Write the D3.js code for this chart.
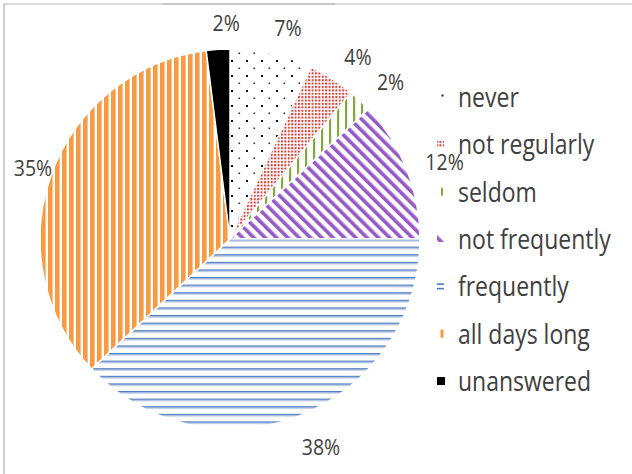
<!DOCTYPE html>
<html>
<head>
<meta charset="utf-8">
<script src="https://cdn.jsdelivr.net/npm/d3@7"></script>
<style>
  html, body { margin: 0; padding: 0; background: #fff; }
  svg { display: block; }
</style>
</head>
<body>
<svg id="chart" width="632" height="474"></svg>
<script>
// Survey answers, in the order the pie is drawn (clockwise from 12 o'clock)
const categories = ["never", "not regularly", "seldom", "not frequently", "frequently", "all days long", "unanswered"];
const values = [7, 4, 2, 12, 38, 35, 2];
const valueLabels = ["7%", "4%", "2%", "12%", "38%", "35%", "2%"];

const W = 632, H = 474;
const cx = 230, cy = 239, r = 190;
const textStretch = 1.15; // tall, narrow lettering

const svg = d3.select("#chart");
const defs = svg.append("defs");

// Hatch patterns, one per category
function pat(id, w, h, draw, transform) {
  const p = defs.append("pattern")
    .attr("id", id)
    .attr("patternUnits", "userSpaceOnUse")
    .attr("width", w).attr("height", h);
  if (transform) p.attr("patternTransform", transform);
  p.append("rect").attr("width", w).attr("height", h).attr("fill", "#fff");
  draw(p);
}
// never: sparse staggered dots
pat("p-never", 15, 15, p => {
  p.append("rect").attr("x", 1).attr("y", 1).attr("width", 2).attr("height", 2).attr("fill", "#111");
  p.append("rect").attr("x", 8.5).attr("y", 8.5).attr("width", 1.6).attr("height", 1.6).attr("fill", "#333");
});
// not regularly: fine red grid
pat("p-notreg", 3.4, 3.4, p => {
  p.append("rect").attr("width", 2).attr("height", 2).attr("fill", "#d63e3a");
});
// seldom: thin green verticals
pat("p-seldom", 8, 8, p => {
  p.append("rect").attr("x", 3).attr("width", 2.2).attr("height", 8).attr("fill", "#84a93c");
});
// not frequently: wide purple downward diagonals
pat("p-notfreq", 8, 8, p => {
  p.append("rect").attr("x", 0).attr("width", 3.6).attr("height", 8).attr("fill", "#9659c6");
}, "rotate(-45)");
// frequently: blue horizontals
pat("p-freq", 8, 7.6, p => {
  p.append("rect").attr("y", 0).attr("width", 8).attr("height", 1.4).attr("fill", "#4f7cc0");
  p.append("rect").attr("y", 1.4).attr("width", 8).attr("height", 1).attr("fill", "#94b0dc");
});
// all days long: heavy orange verticals
pat("p-allday", 7, 8, p => {
  p.append("rect").attr("x", 0).attr("width", 4.6).attr("height", 8).attr("fill", "#f79a43");
});

const fills = ["url(#p-never)", "url(#p-notreg)", "url(#p-seldom)", "url(#p-notfreq)",
               "url(#p-freq)", "url(#p-allday)", "#000"];
const color = d3.scaleOrdinal().domain(categories).range(fills);

// Chart frame
svg.append("line").attr("x1", 4).attr("x2", W).attr("y1", 4).attr("y2", 4)
  .attr("stroke", "#d9d9d9").attr("stroke-width", 2);
svg.append("line").attr("x1", 163).attr("x2", 335).attr("y1", 4).attr("y2", 4)
  .attr("stroke", "#c6c6c6").attr("stroke-width", 2);
svg.append("line").attr("x1", 4).attr("x2", 4).attr("y1", 3).attr("y2", H)
  .attr("stroke", "#cfcfcf").attr("stroke-width", 2);

// Pie
const pie = d3.pie().sort(null).value(d => d.value);
const data = categories.map((c, i) => ({ cat: c, value: values[i], label: valueLabels[i] }));
const arcs = pie(data);
const arc = d3.arc().innerRadius(0).outerRadius(r);

const g = svg.append("g").attr("transform", `translate(${cx},${cy})`);
g.selectAll("path.slice")
  .data(arcs)
  .join("path")
  .attr("class", "slice")
  .attr("d", arc)
  .attr("fill", d => color(d.data.cat))
  .attr("stroke", "#fff")
  .attr("stroke-width", 1.5)
  .attr("stroke-linejoin", "round");

// Value labels just outside the rim
const labelArc = d3.arc().innerRadius(r + 30).outerRadius(r + 30);
g.selectAll("text.val")
  .data(arcs)
  .join("text")
  .attr("class", "val")
  .attr("transform", d => {
    const [x, y] = labelArc.centroid(d);
    return `translate(${x + 10},${y + 3}) scale(1,${textStretch})`;
  })
  .attr("text-anchor", "middle")
  .attr("dominant-baseline", "central")
  .attr("font-family", "'Open Sans', sans-serif")
  .attr("font-size", 19.5)
  .attr("fill", "#404040")
  .text(d => d.data.label);

// Legend
const legendY = d3.scalePoint().domain(categories).range([97, 381]);
const lg = svg.append("g");
const item = lg.selectAll("g.item")
  .data(categories)
  .join("g")
  .attr("class", "item")
  .attr("transform", d => `translate(436,${legendY(d)})`);

item.each(function(d, i) {
  const s = d3.select(this);
  if (i === 0) {
    s.append("rect").attr("x", 5.5).attr("y", -2.5).attr("width", 2).attr("height", 2).attr("fill", "#222");
  } else if (i === 1) {
    s.append("rect").attr("x", 1).attr("y", -4).attr("width", 7).attr("height", 7).attr("fill", color(d));
  } else if (i === 2) {
    s.append("rect").attr("x", 5).attr("y", -4).attr("width", 2).attr("height", 8).attr("fill", "#84a93c");
  } else if (i === 3) {
    s.append("rect").attr("x", 1).attr("y", -4).attr("width", 7).attr("height", 7).attr("fill", color(d));
  } else if (i === 4) {
    s.append("rect").attr("x", 1).attr("y", -3).attr("width", 7).attr("height", 1.6).attr("fill", "#4f7cc0");
    s.append("rect").attr("x", 1).attr("y", 1.5).attr("width", 7).attr("height", 1.6).attr("fill", "#4f7cc0");
  } else if (i === 5) {
    s.append("rect").attr("x", 4.5).attr("y", -4).attr("width", 3).attr("height", 8).attr("fill", "#f79a43");
  } else {
    s.append("rect").attr("x", 1).attr("y", -4).attr("width", 8).attr("height", 8).attr("fill", "#000");
  }
});

item.append("text")
  .attr("transform", `translate(22,0) scale(1,${textStretch})`)
  .attr("dominant-baseline", "central")
  .attr("font-family", "'Open Sans', sans-serif")
  .attr("font-size", 23)
  .attr("fill", "#404040")
  .text(d => d);
</script>
</body>
</html>
